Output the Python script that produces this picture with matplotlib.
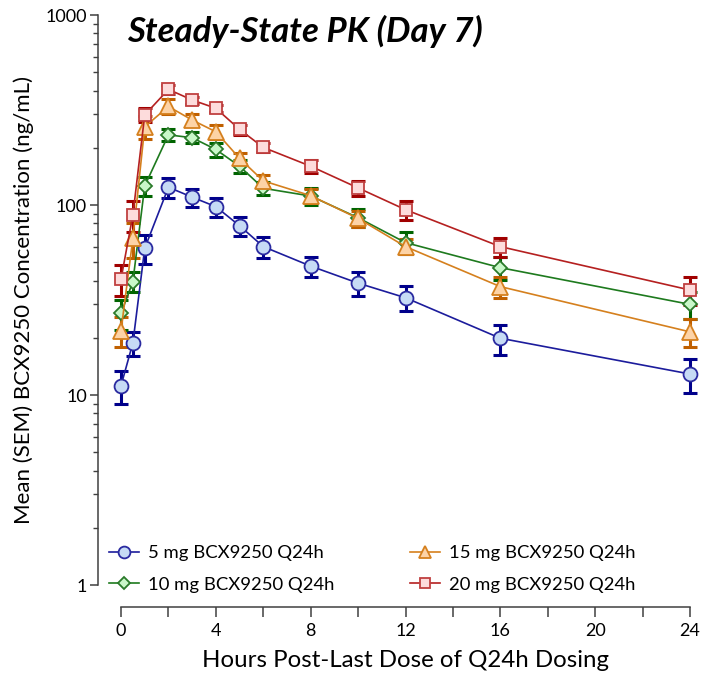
import numpy as np
import matplotlib
matplotlib.use("Agg")
import matplotlib.pyplot as plt
from matplotlib.ticker import FixedLocator, NullFormatter, LogLocator

plt.rcParams['font.family'] = ['Lato', 'DejaVu Sans']

# -----------------------------
# Data
# -----------------------------
hours = [0, 0.5, 1, 2, 3, 4, 5, 6, 8, 10, 12, 16, 24]

mean_5mg = [11.2, 18.8, 59.2, 124, 110, 98, 77.8, 60.4, 47.7, 38.8, 32.5, 19.9, 12.9]
sem_5mg = [2.2, 2.7, 10.5, 15, 12, 11, 9, 7.7, 5.8, 5.5, 4.9, 3.6, 2.6]

mean_10mg = [26.9, 39.5, 126, 234, 226, 196, 160, 122.5, 111.5, 85.7, 63.4, 46.8, 30]
sem_10mg = [4.8, 4.8, 15, 18, 15, 17, 12, 10, 11, 9.5, 8.5, 6.5, 4.8]

mean_15mg = [21.8, 66.8, 258, 330, 280, 243, 176, 134, 112, 85, 60.4, 37.2, 21.5]
sem_15mg = [3.8, 14, 35, 30, 20, 20, 12, 10, 10, 8, 5.5, 4.8, 3.5]

mean_20mg = [40.8, 88.6, 298, 406, 357, 323, 250, 201, 160, 123, 94.5, 60.4, 35.7]
sem_20mg = [7.5, 16.5, 25, 20, 15, 15, 15, 12, 13, 11.5, 11, 7, 6]

labels = ["5 mg BCX9250 Q24h", "10 mg BCX9250 Q24h",
          "15 mg BCX9250 Q24h", "20 mg BCX9250 Q24h"]

# style per group: marker, size, line, face, edge, errorbar colour
styles = [
    ("o", 10, "#1c1c9c", "#c6dbf5", "#2a2aa0", "#00008b"),
    ("D", 7.5, "#1e7a1e", "#c9f7c9", "#2a7a2a", "#006400"),
    ("^", 11, "#d5801e", "#fdd3a6", "#d5801e", "#c06000"),
    ("s", 8.5, "#b52020", "#fddcdc", "#c04040", "#a00000"),
]

means = [mean_5mg, mean_10mg, mean_15mg, mean_20mg]
sems = [sem_5mg, sem_10mg, sem_15mg, sem_20mg]

# -----------------------------
# Plot
# -----------------------------
fig = plt.figure(figsize=(7.02, 6.79), dpi=100)
ax = fig.add_axes([0.1724, 0.1384, 0.8105, 0.8395])

handles = []
for m, s, lab, st in zip(means, sems, labels, styles):
    marker, ms, lc, fc, ec, errc = st
    ax.errorbar(hours, m, yerr=s, fmt="none", ecolor=errc, elinewidth=2.2,
                capsize=5, capthick=2.2, clip_on=False, zorder=2)
    h, = ax.plot(hours, m, color=lc, lw=1.2, marker=marker, ms=ms,
                 mfc=fc, mec=ec, mew=1.3, clip_on=False, zorder=3, label=lab)
    handles.append(h)

ax.set_yscale("log")
ax.set_ylim(1, 1000)
ax.set_xlim(0, 24)

ax.spines["top"].set_visible(False)
ax.spines["right"].set_visible(False)
ax.spines["left"].set_position(("outward", 16.5))
ax.spines["bottom"].set_position(("outward", 16))
for sp in ("left", "bottom"):
    ax.spines[sp].set_color("#404040")
    ax.spines[sp].set_linewidth(1.1)

ax.xaxis.set_major_locator(FixedLocator([0, 4, 8, 12, 16, 20, 24]))
ax.xaxis.set_minor_locator(FixedLocator([2, 6, 10, 14, 18, 22]))
ax.yaxis.set_major_locator(FixedLocator([1, 10, 100, 1000]))
ax.yaxis.set_minor_locator(LogLocator(base=10, subs=np.arange(2, 10)))
ax.yaxis.set_minor_formatter(NullFormatter())
ax.set_yticklabels(["1", "10", "100", "1000"])

ax.tick_params(axis="x", which="both", length=7, width=1.1, color="#404040",
               labelsize=13, pad=4)
ax.tick_params(axis="y", which="major", length=6, width=1.1, color="#404040",
               labelsize=13, pad=2)
ax.tick_params(axis="y", which="minor", length=3.5, width=1.0, color="#404040")

ax.set_xlabel("Hours Post-Last Dose of Q24h Dosing", fontsize=17.3, labelpad=8)
ax.set_ylabel("Mean (SEM) BCX9250 Concentration (ng/mL)", fontsize=16,
              labelpad=8)

ax.text(0.01, 1.0, "Steady-State PK (Day 7)", transform=ax.transAxes,
        fontsize=25, fontweight="bold", fontstyle="italic", va="top", ha="left")

ax.legend(handles=handles, ncol=2, frameon=False, fontsize=13.3,
          loc="lower left", bbox_to_anchor=(-0.05, -0.043),
          handlelength=1.6, columnspacing=4.1, labelspacing=0.85,
          handletextpad=0.5, markerscale=0.85)

fig.savefig("out.png", dpi=100)
